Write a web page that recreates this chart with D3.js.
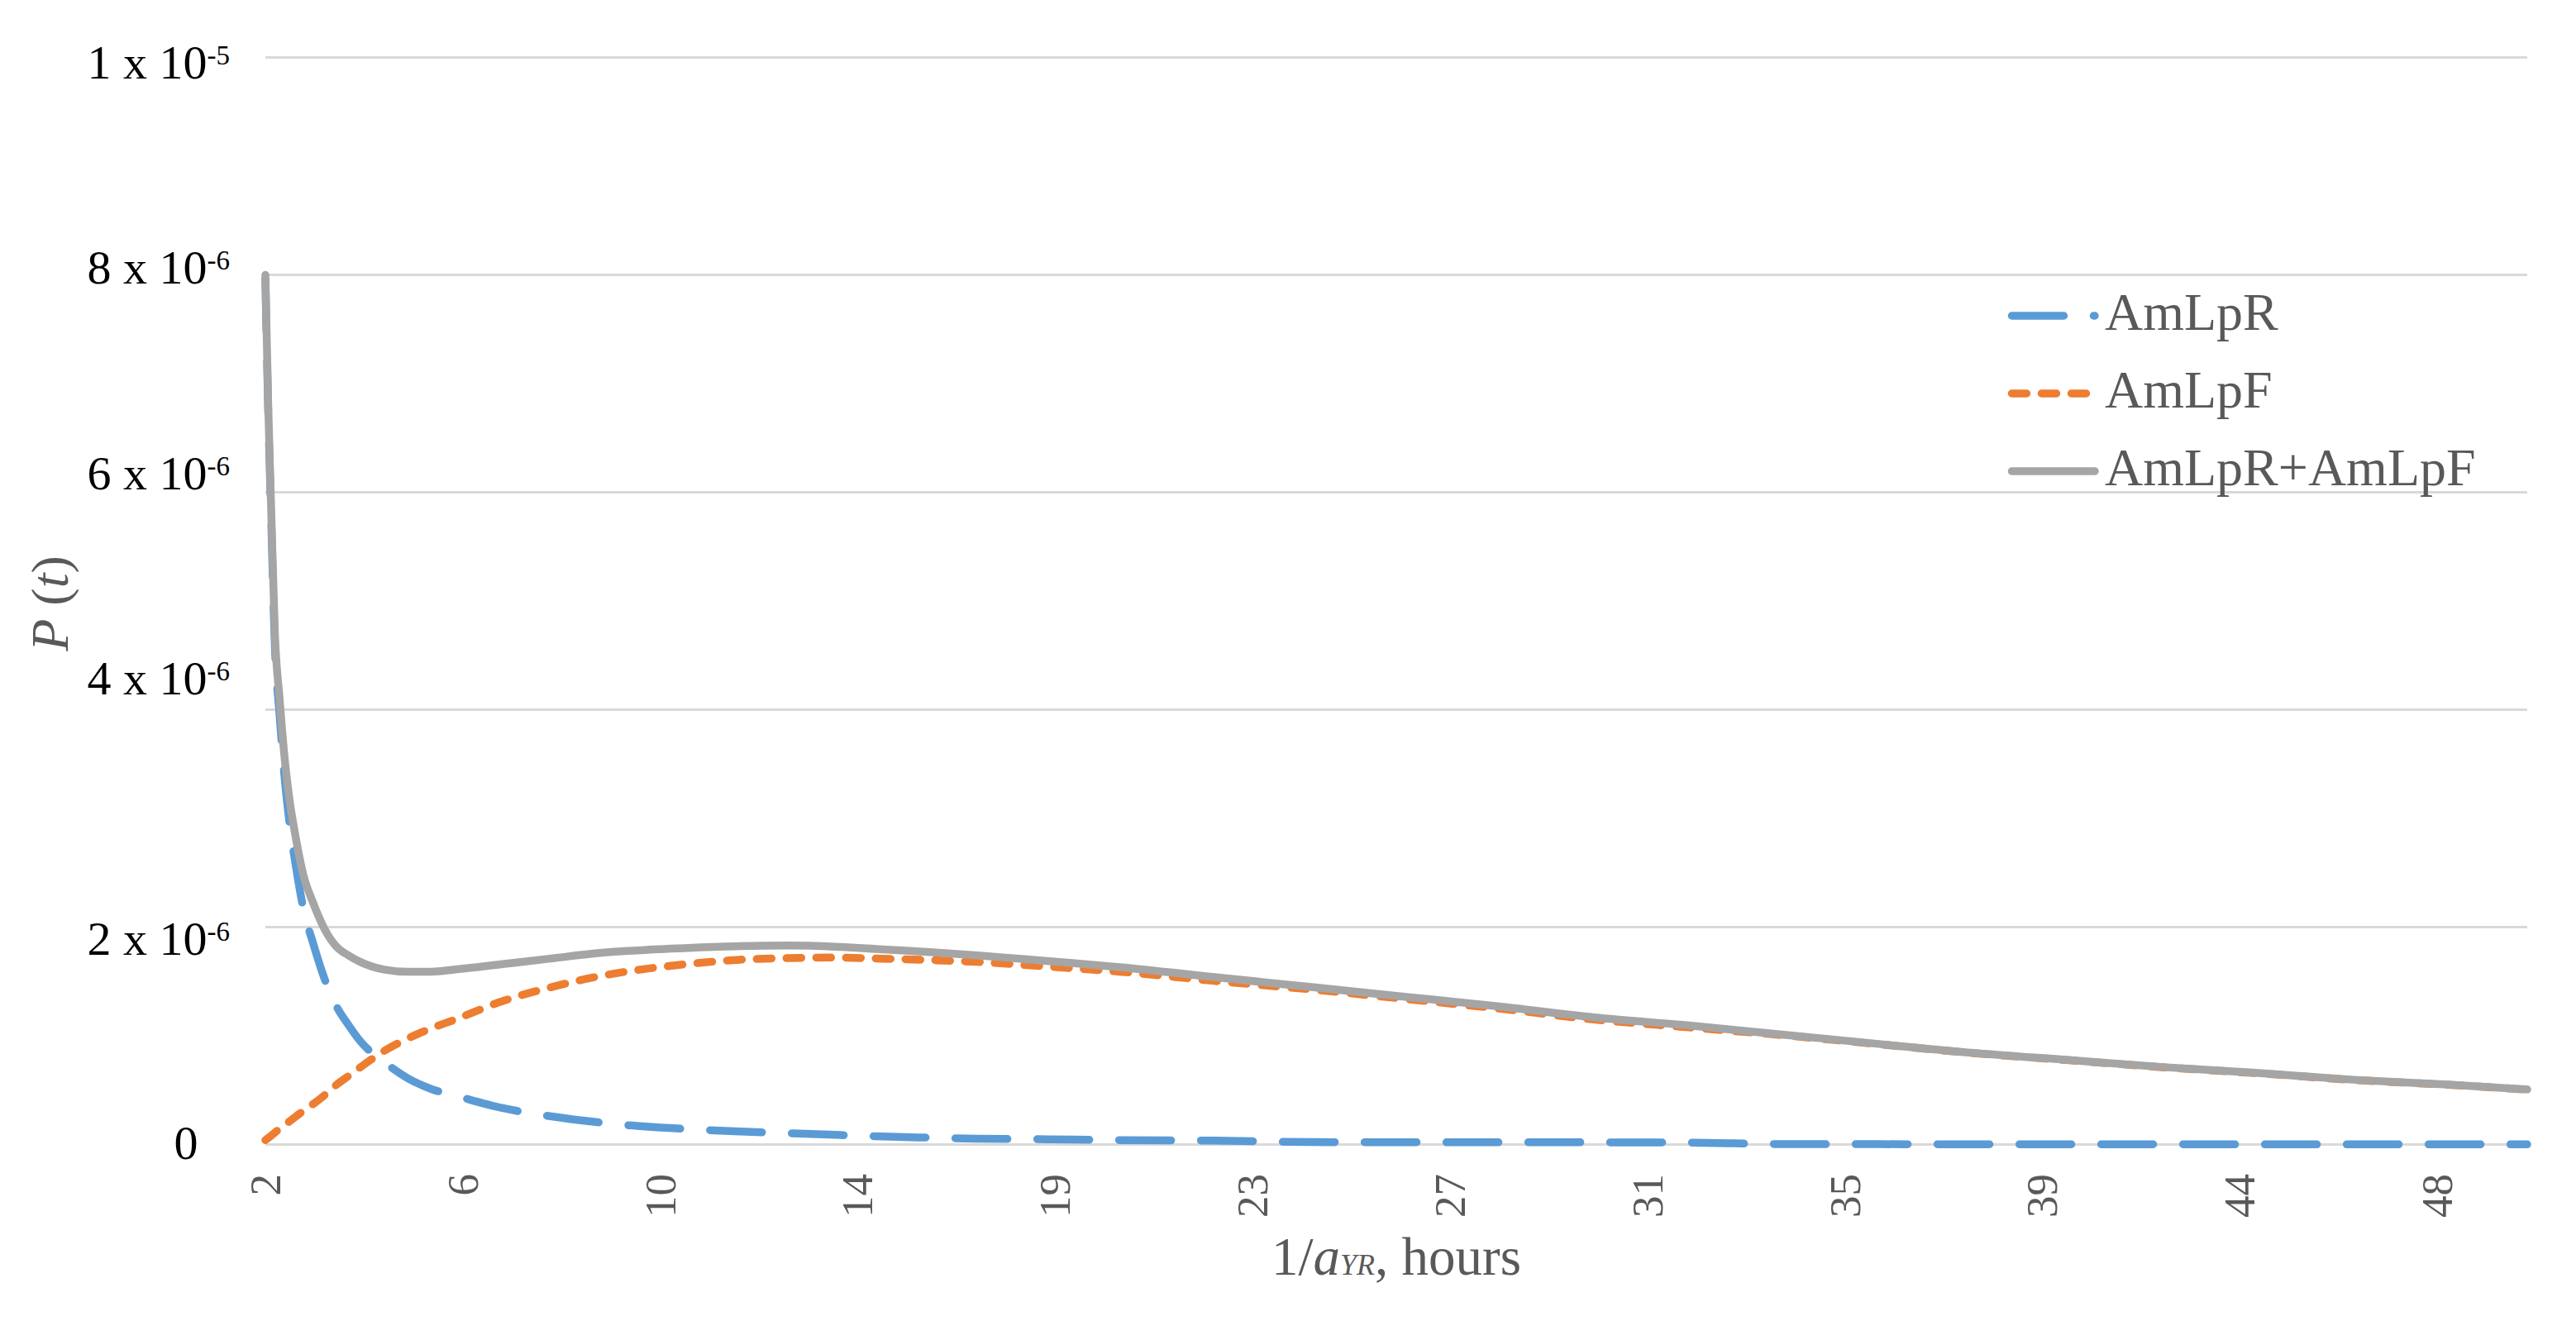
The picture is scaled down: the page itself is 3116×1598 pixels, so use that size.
<!DOCTYPE html>
<html>
<head>
<meta charset="utf-8">
<script src="https://cdn.jsdelivr.net/npm/d3@7"></script>
<style>
body{margin:0;background:#fff;}
svg{display:block;font-family:"Liberation Serif","Times New Roman",serif;}
</style>
</head>
<body>
<div id="chart"></div>
<script>
// 1/aYR in hours
var hours = [2, 2.06, 2.12, 2.2, 2.3, 2.4, 2.5, 2.65, 2.8, 3, 3.25, 3.5, 3.75, 4, 4.5, 5, 5.5, 6, 7, 8, 9, 10,
    11, 12, 13, 14, 15, 16, 17, 18, 19, 20, 22, 24, 26, 28, 30, 32, 34, 36, 38, 40, 42, 44, 46, 48, 49.66];
// P(t), in units of 1e-6
var amlpR = [7.96, 6.74, 5.8, 4.59, 3.95, 3.4, 2.99, 2.54, 2.17, 1.86, 1.52, 1.27, 1.1, 0.95, 0.76, 0.61, 0.51, 0.45, 0.335, 0.26, 0.205, 0.165,
    0.14, 0.12, 0.104, 0.089, 0.074, 0.063, 0.054, 0.05, 0.046, 0.04, 0.036, 0.022, 0.021, 0.02, 0.02, 0.018, 0.004, 0.003, 0.002, 0.002, 0.002, 0.001, 0.001, 0.001, 0.001];
var amlpF = [0.04, 0.06, 0.08, 0.11, 0.145, 0.18, 0.21, 0.26, 0.31, 0.37, 0.455, 0.55, 0.63, 0.71, 0.86, 0.975, 1.07, 1.15, 1.32, 1.445, 1.545, 1.615,
    1.665, 1.7, 1.715, 1.72, 1.71, 1.697, 1.68, 1.652, 1.622, 1.59, 1.505, 1.428, 1.34, 1.25, 1.15, 1.077, 1.005, 0.922, 0.84, 0.775, 0.71, 0.655, 0.594, 0.549, 0.505];
var amlpSum = [8.0, 6.8, 5.88, 4.7, 4.1, 3.58, 3.2, 2.8, 2.48, 2.23, 1.98, 1.82, 1.74, 1.68, 1.61, 1.59, 1.59, 1.61, 1.66, 1.71, 1.76, 1.79,
    1.81, 1.825, 1.83, 1.82, 1.795, 1.77, 1.74, 1.705, 1.67, 1.632, 1.54, 1.45, 1.36, 1.27, 1.17, 1.095, 1.01, 0.925, 0.842, 0.777, 0.712, 0.657, 0.596, 0.551, 0.507];

var seriesNames = ["AmLpR", "AmLpF", "AmLpR+AmLpF"];
var xTickHours = [2, 6.16, 10.32, 14.48, 18.64, 22.8, 26.96, 31.12, 35.28, 39.44, 43.6, 47.76];
var xTickLabels = ["2", "6", "10", "14", "19", "23", "27", "31", "35", "39", "44", "48"];
var yTicks = [0, 2, 4, 6, 8, 10];
var yTickBase = ["0", "2 x 10", "4 x 10", "6 x 10", "8 x 10", "1 x 10"];
var yTickExp = ["", "-6", "-6", "-6", "-6", "-5"];

var W = 3116, H = 1598;
var svg = d3.select("#chart").append("svg").attr("width", W).attr("height", H);

var x = d3.scaleLinear().domain([2, 49.66]).range([321, 3057]);
var y = d3.scaleLinear().domain([0, 10]).range([1384.5, 69.6]);

/*gridlines*/
svg.append("g").selectAll("line")
    .data(yTicks)
    .enter().append("line")
    .attr("x1", x.range()[0]).attr("x2", x.range()[1])
    .attr("y1", function(d){ return y(d); })
    .attr("y2", function(d){ return y(d); })
    .attr("stroke", "#d9d9d9")
    .attr("stroke-width", 3);

/*y labels, placed a little off their gridlines as in the original*/
var yLabelDy = [17.5, 33.5, -18.5, -3.5, 10.6, 25.4];
var yLabelData = yTicks.map(function(v, i){
    return {v: v, base: yTickBase[i], exp: yTickExp[i], dy: yLabelDy[i]};
});
var yl = svg.append("g").selectAll("text")
    .data(yLabelData)
    .enter().append("text")
    .attr("x", function(d){ return d.exp ? 278 : 225; })
    .attr("y", function(d){ return y(d.v) + d.dy; })
    .attr("text-anchor", function(d){ return d.exp ? "end" : "middle"; })
    .attr("font-size", 58)
    .attr("fill", "#000");
yl.append("tspan").text(function(d){ return d.base; });
yl.filter(function(d){ return d.exp; })
    .append("tspan")
    .attr("font-size", 33)
    .attr("dy", -17)
    .text(function(d){ return d.exp; });

/*x tick labels, rotated*/
svg.append("g").selectAll("text")
    .data(xTickHours)
    .enter().append("text")
    .attr("transform", function(d){ return "translate(" + x(d) + ",1420) rotate(-90)"; })
    .attr("text-anchor", "end")
    .attr("dy", "0.34em")
    .attr("font-size", 53)
    .attr("fill", "#595959")
    .text(function(d, i){ return xTickLabels[i]; });

/*axis titles*/
var xt = svg.append("text")
    .attr("x", (x.range()[0] + x.range()[1]) / 2)
    .attr("y", 1542)
    .attr("text-anchor", "middle")
    .attr("font-size", 65)
    .attr("fill", "#595959");
xt.append("tspan").text("1/");
xt.append("tspan").attr("font-style", "italic").text("a");
xt.append("tspan").attr("font-style", "italic").attr("font-size", 36).text("YR");
xt.append("tspan").text(", hours");

var yt = svg.append("text")
    .attr("transform", "translate(82,730) rotate(-90)")
    .attr("text-anchor", "middle")
    .attr("font-size", 64)
    .attr("fill", "#595959");
yt.append("tspan").attr("font-style", "italic").text("P");
yt.append("tspan").text(" (");
yt.append("tspan").attr("font-style", "italic").text("t");
yt.append("tspan").text(")");

/*series*/
var styles = [
    {color: "#5b9bd5", dash: "63,36"},
    {color: "#ed7d31", dash: "18,18"},
    {color: "#a5a5a5", dash: null}
];
var seriesValues = [amlpR, amlpF, amlpSum];
var series = seriesNames.map(function(name, i){
    return {name: name, style: styles[i], points: hours.map(function(h, j){ return [h, seriesValues[i][j]]; })};
});

var line = d3.line()
    .x(function(d){ return x(d[0]); })
    .y(function(d){ return y(d[1]); })
    .curve(d3.curveMonotoneX);

svg.append("g").selectAll("path")
    .data(series)
    .enter().append("path")
    .attr("d", function(d){ return line(d.points); })
    .attr("fill", "none")
    .attr("stroke", function(d){ return d.style.color; })
    .attr("stroke-width", 9.5)
    .attr("stroke-linecap", "round")
    .attr("stroke-linejoin", "round")
    .attr("stroke-dasharray", function(d){ return d.style.dash; });

/*legend*/
var legend = svg.append("g").selectAll("g")
    .data(series)
    .enter().append("g")
    .attr("transform", function(d, i){ return "translate(0," + (i * 94) + ")"; });
legend.append("line")
    .attr("x1", 2433.5).attr("x2", 2534)
    .attr("y1", 382).attr("y2", 382)
    .attr("stroke", function(d){ return d.style.color; })
    .attr("stroke-width", 9.5)
    .attr("stroke-linecap", "round")
    .attr("stroke-dasharray", function(d){ return d.style.dash; });
legend.append("text")
    .attr("x", 2546)
    .attr("y", 399)
    .attr("font-size", 64)
    .attr("fill", "#595959")
    .text(function(d){ return d.name; });
</script>
</body>
</html>
